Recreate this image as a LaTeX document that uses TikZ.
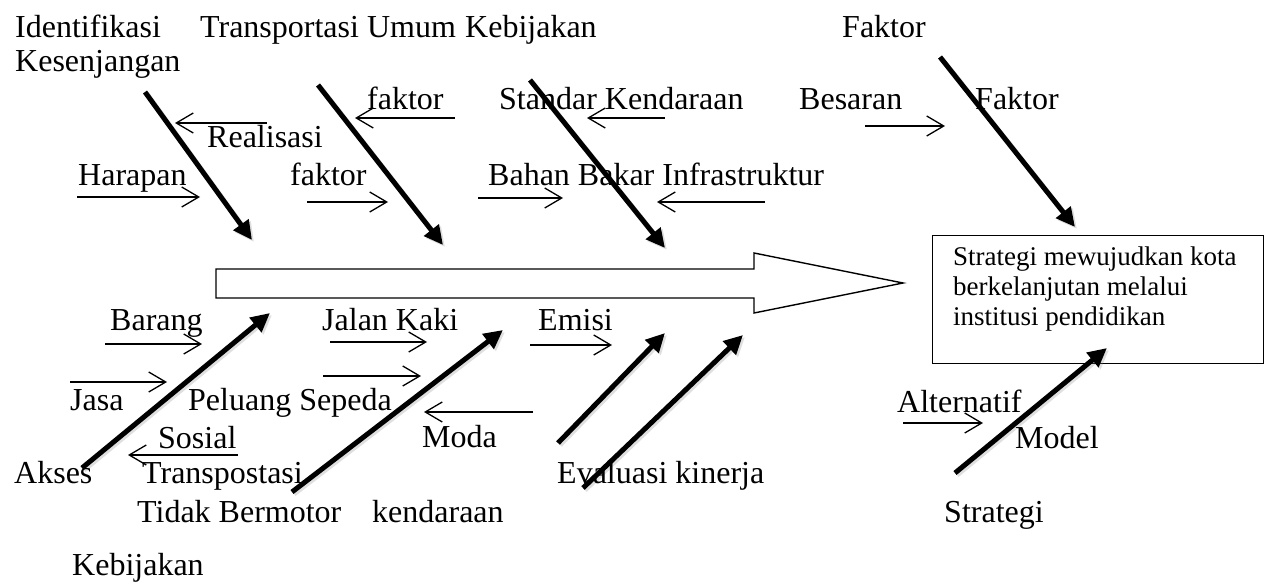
\documentclass[tikz,border=0pt]{standalone}
\usepackage{fontspec}
\setmainfont{Liberation Serif}
\usetikzlibrary{arrows.meta}
\begin{document}
\begin{tikzpicture}[x=1pt,y=-1pt,
  lbl/.style={anchor=base west,inner sep=0pt,font=\fontsize{32}{38}\selectfont},
  boxlbl/.style={anchor=base west,inner sep=0pt,font=\fontsize{27}{30}\selectfont},
  bone/.style={line width=5pt,-{Triangle[length=19pt,width=18pt]}},
  boneshadow/.style={line width=5pt,draw=gray,opacity=0.25,-{Triangle[length=19pt,width=18pt]}},
  thin/.style={line width=1.3pt,-{Straight Barb[length=17pt,width=20pt,line width=1.3pt]}},
  spine/.style={line width=1.4pt,fill=white},
  resultbox/.style={draw,line width=1.4pt,minimum width=331pt,minimum height=128pt,anchor=north west,inner sep=0pt}
]
\useasboundingbox (0,0) rectangle (1269,583);

% ---- spine (big hollow arrow) ----
\draw[spine] (216,269) -- (754,269) -- (754,253) -- (903,283) -- (754,313) -- (754,298) -- (216,298) -- cycle;

% ---- result box ----
\node[resultbox] (box) at (932,235) {};
\node[boxlbl] (r1) at (953,265) {Strategi mewujudkan kota};
\node[boxlbl] (r2) at (953,295) {berkelanjutan melalui};
\node[boxlbl] (r3) at (953,325) {institusi pendidikan};

% ---- bone coordinates ----
\coordinate (b1s) at (145,92);  \coordinate (b1e) at (252,240);
\coordinate (b2s) at (318,85);  \coordinate (b2e) at (443,245);
\coordinate (b3s) at (530,80);  \coordinate (b3e) at (665,248);
\coordinate (b4s) at (940,57);  \coordinate (b4e) at (1075,227);
\coordinate (b5s) at (82,468);  \coordinate (b5e) at (270,313);
\coordinate (b6s) at (292,492); \coordinate (b6e) at (503,330);
\coordinate (b7s) at (558,443); \coordinate (b7e) at (665,333);
\coordinate (b8s) at (583,488); \coordinate (b8e) at (743,335);
\coordinate (b9s) at (955,473); \coordinate (b9e) at (1107,348);

% shadows
\foreach \i in {1,...,9}{
  \draw[boneshadow] ([shift={(2,2)}]b\i s) -- ([shift={(2,2)}]b\i e);
}
% bones
\foreach \i in {1,...,9}{
  \draw[bone] (b\i s) -- (b\i e);
}

% ---- thin arrow coordinates ----
\coordinate (t1s) at (267,123);  \coordinate (t1e) at (175,123);
\coordinate (t2s) at (77,197);   \coordinate (t2e) at (200,197);
\coordinate (t3s) at (455,118);  \coordinate (t3e) at (355,118);
\coordinate (t4s) at (307,202);  \coordinate (t4e) at (388,202);
\coordinate (t5s) at (665,118);  \coordinate (t5e) at (587,118);
\coordinate (t6s) at (478,198);  \coordinate (t6e) at (563,198);
\coordinate (t7s) at (765,202);  \coordinate (t7e) at (657,202);
\coordinate (t8s) at (865,126);  \coordinate (t8e) at (945,126);
\coordinate (t9s) at (105,344);  \coordinate (t9e) at (202,344);
\coordinate (t10s) at (70,382);  \coordinate (t10e) at (167,382);
\coordinate (t11s) at (330,342); \coordinate (t11e) at (427,342);
\coordinate (t12s) at (323,376); \coordinate (t12e) at (421,376);
\coordinate (t13s) at (238,455); \coordinate (t13e) at (128,455);
\coordinate (t14s) at (530,345); \coordinate (t14e) at (612,345);
\coordinate (t15s) at (533,412); \coordinate (t15e) at (424,412);
\coordinate (t16s) at (903,423); \coordinate (t16e) at (983,423);
\foreach \i in {1,...,16}{
  \draw[thin] (t\i s) -- (t\i e);
}

% ---- labels (top) ----
\node[lbl] (l1) at (15,38) {Identifikasi};
\node[lbl] (l2) at (15,72) {Kesenjangan};
\node[lbl] (l3) at (200,38) {Transportasi Umum};
\node[lbl] (l4) at (465,38) {Kebijakan};
\node[lbl] (l5) at (842,38) {Faktor};
\node[lbl] (l6) at (207,148) {Realisasi};
\node[lbl] (l7) at (78,185) {Harapan};
\node[lbl] (l8) at (367,110) {faktor};
\node[lbl] (l9) at (290,185) {faktor};
\node[lbl] (l10) at (499,110) {Standar Kendaraan};
\node[lbl] (l11) at (488,185) {Bahan Bakar Infrastruktur};
\node[lbl] (l12) at (799,110) {Besaran};
\node[lbl] (l13) at (975,110) {Faktor};

% ---- labels (bottom) ----
\node[lbl] (m1) at (110,330) {Barang};
\node[lbl] (m2) at (322,330) {Jalan Kaki};
\node[lbl] (m3) at (538,330) {Emisi};
\node[lbl] (m4) at (70,410) {Jasa};
\node[lbl] (m5) at (188,410) {Peluang Sepeda};
\node[lbl] (m6) at (158,448) {Sosial};
\node[lbl] (m7) at (14,483) {Akses};
\node[lbl] (m8) at (142,483) {Transpostasi};
\node[lbl] (m9) at (137,522) {Tidak Bermotor};
\node[lbl] (m10) at (372,522) {kendaraan};
\node[lbl] (m11) at (72,575) {Kebijakan};
\node[lbl] (m12) at (422,447) {Moda};
\node[lbl] (m13) at (557,483) {Evaluasi kinerja};
\node[lbl] (m14) at (897,412) {Alternatif};
\node[lbl] (m15) at (1015,448) {Model};
\node[lbl] (m16) at (944,522) {Strategi};
\end{tikzpicture}
\end{document}
